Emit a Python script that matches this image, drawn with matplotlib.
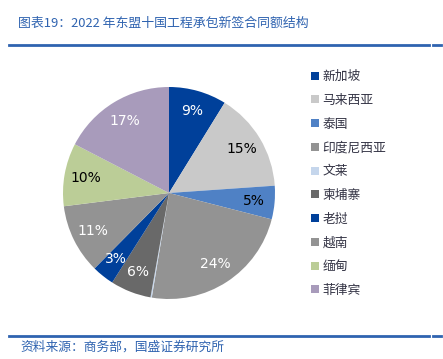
import numpy as np
import matplotlib.pyplot as plt
from matplotlib.lines import Line2D

plt.rcParams['font.family'] = ['Noto Sans CJK SC', 'DejaVu Sans']

# --- data ---
countries = ["新加坡", "马来西亚", "泰国", "印度尼西亚", "文莱",
             "柬埔寨", "老挝", "越南", "缅甸", "菲律宾"]
shares = [8.8, 15.1, 5.1, 23.6, 0.2, 6.2, 3.4, 10.6, 9.6, 17.4]
pct_labels = ["9%", "15%", "5%", "24%", "", "6%", "3%", "11%", "10%", "17%"]
colors = ["#00409A", "#C9C9C9", "#4F81C5", "#939393", "#C5D6EC",
          "#696969", "#00409A", "#939393", "#BBCD97", "#A89BBB"]
label_colors = ["white", "black", "black", "white", "white",
                "white", "white", "white", "black", "white"]

title = "图表19：2022 年东盟十国工程承包新签合同额结构"
source = "资料来源：商务部，国盛证券研究所"
blue = "#2F63B0"

fig = plt.figure(figsize=(4.43, 3.59), dpi=100)

# --- pie ---
ax = fig.add_axes([63/443, 1-299/359, 212/443, 212/359])
wedges, _ = ax.pie(shares, colors=colors, startangle=90, counterclock=False,
                   radius=1, wedgeprops=dict(linewidth=0))
ax.set_xlim(-1, 1)
ax.set_ylim(-1, 1)
ax.set_aspect("equal")
ax.axis("off")

# percentage labels
ang0 = 90.0
total = sum(shares)
for val, lab, lc in zip(shares, pct_labels, label_colors):
    span = 360.0 * val / total
    mid = np.deg2rad(ang0 - span / 2)
    ang0 -= span
    if lab:
        ax.text(0.8 * np.cos(mid), 0.8 * np.sin(mid), lab, color=lc,
                fontsize=10, ha="center", va="center", family="DejaVu Sans")

# --- legend ---
handles = [Line2D([], [], marker="s", linestyle="none", markersize=6,
                  markerfacecolor=c, markeredgewidth=0) for c in colors]
fig.legend(handles, countries, loc="upper left",
           bbox_to_anchor=(306/443, 1-65/359), frameon=False,
           fontsize=9.2, handlelength=0.6, handletextpad=0.3,
           labelspacing=0.84, labelcolor="#333344", borderaxespad=0)

# --- title, rules and source ---
fig.text(18/443, 1-23/359, title, color=blue, fontsize=9.3,
         style="italic", va="center", ha="left")
fig.add_artist(Line2D([9/443, 429/443], [1-45/359]*2, color=blue, lw=2))
fig.add_artist(Line2D([433/443, 441/443], [1-45/359]*2, color=blue, lw=2))
fig.add_artist(Line2D([9/443, 429/443], [1-335.5/359]*2, color=blue, lw=2))
fig.add_artist(Line2D([433/443, 441/443], [1-335.5/359]*2, color=blue, lw=2))
fig.text(20/443, 1-347/359, source, color=blue, fontsize=9.2,
         style="italic", va="center", ha="left")

plt.savefig("out.png", dpi=100)
plt.close()
